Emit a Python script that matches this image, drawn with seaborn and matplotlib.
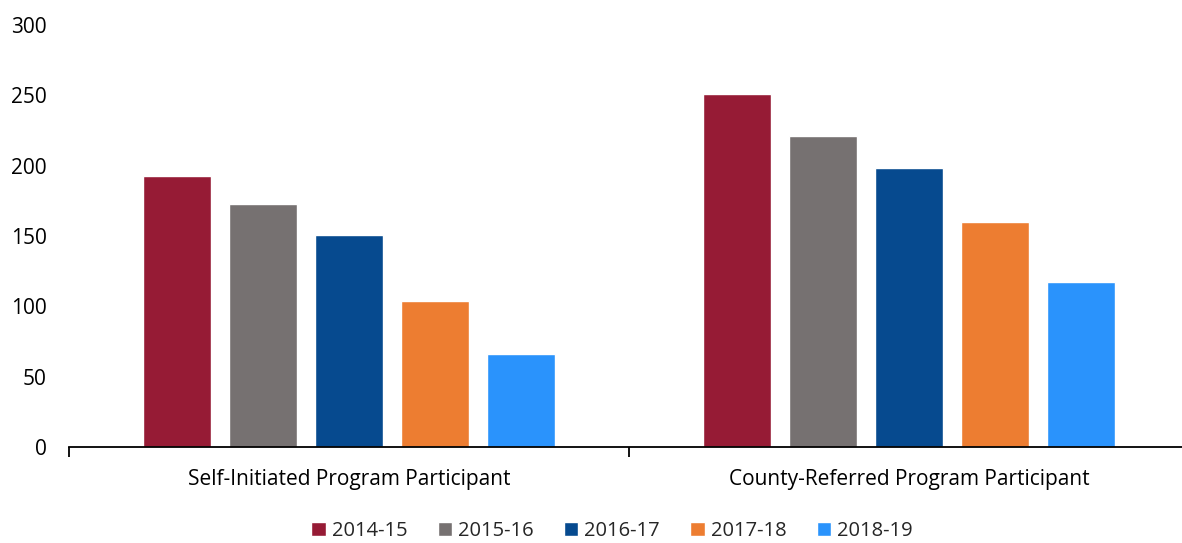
import matplotlib
matplotlib.use("Agg")
import matplotlib.pyplot as plt
import seaborn as sns
import pandas as pd
from matplotlib.ticker import FixedLocator

categories = ["Self-Initiated Program Participant", "County-Referred Program Participant"]
years = ["2014-15", "2015-16", "2016-17", "2017-18", "2018-19"]
v_2014_15 = [193, 251]
v_2015_16 = [173, 221]
v_2016_17 = [151, 198]
v_2017_18 = [104, 160]
v_2018_19 = [66, 117]
colors = ["#961B35", "#767171", "#064A8F", "#ED7D31", "#2A93FC"]
yticks = [0, 50, 100, 150, 200, 250, 300]

series = [v_2014_15, v_2015_16, v_2016_17, v_2017_18, v_2018_19]
rows = []
for y, vals in zip(years, series):
    for c, v in zip(categories, vals):
        rows.append({"category": c, "year": y, "value": v})
df = pd.DataFrame(rows)

sns.set_theme(style="white")
plt.rcParams["font.family"] = ["Open Sans", "DejaVu Sans"]

fig = plt.figure(figsize=(11.82, 5.43), dpi=100)
ax = fig.add_axes([69 / 1182, 1 - 447 / 543, 1120 / 1182, 422 / 543])

sns.barplot(data=df, x="category", y="value", hue="year", order=categories,
            hue_order=years, palette=colors, width=0.768, gap=0.21,
            saturation=1, ax=ax, legend=True)

ax.set_xlim(-0.5, 1.5)
ax.set_ylim(0, 300)
ax.set_yticks(yticks)
ax.set_xlabel("")
ax.set_ylabel("")
for s in ["top", "right", "left"]:
    ax.spines[s].set_visible(False)
ax.spines["bottom"].set_color("#000000")
ax.spines["bottom"].set_linewidth(1.3)
ax.tick_params(axis="y", length=0, pad=16, labelsize=15, labelcolor="#000000")
ax.tick_params(axis="x", which="major", length=0, pad=16, labelsize=15, labelcolor="#000000")
ax.xaxis.set_minor_locator(FixedLocator([-0.5, 0.5, 1.5]))
ax.tick_params(axis="x", which="minor", length=7, width=1.3, color="#000000", bottom=True)

handles, labels = ax.get_legend_handles_labels()
ax.legend(handles, labels, loc="center", bbox_to_anchor=(612 / 1182, 1 - 531 / 543),
          bbox_transform=fig.transFigure, ncol=5,
          frameon=False, fontsize=14.5, handlelength=0.72, handleheight=0.72,
          handletextpad=0.3, columnspacing=1.5)

fig.savefig("out.png", dpi=100)
